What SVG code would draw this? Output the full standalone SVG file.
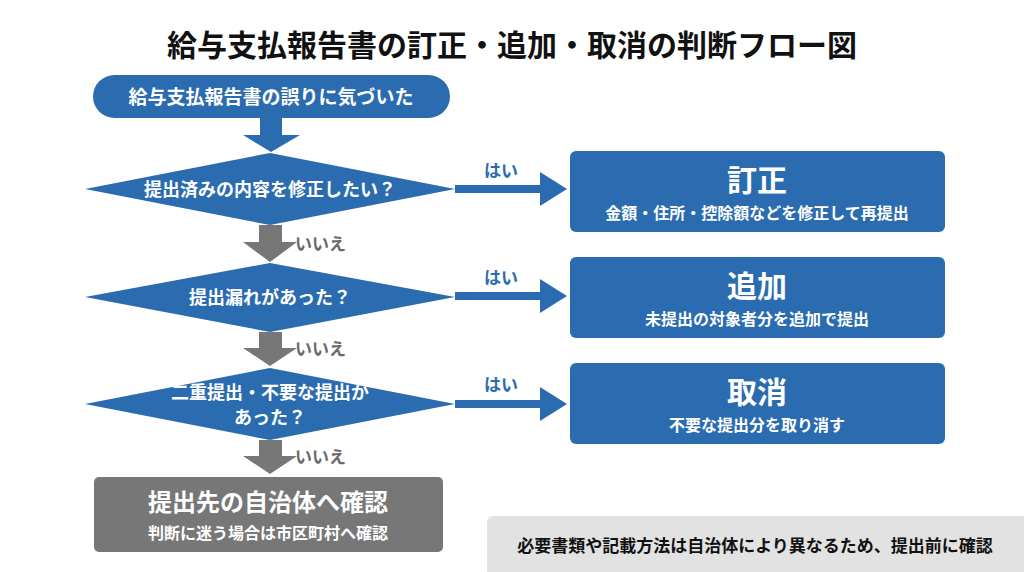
<svg xmlns="http://www.w3.org/2000/svg" width="1024" height="572" viewBox="0 0 1024 572">
<style>
text{font-family:"Noto Sans CJK JP","Noto Sans",sans-serif;font-weight:bold;text-anchor:middle}
.b{fill:#2b6cb0}.g{fill:#777}.w{fill:#fff}
.gl{fill:#6b6b6b;font-size:17px;text-anchor:start}
.bl{fill:#2b6cb0;font-size:17px;text-anchor:start}
</style>
<rect width="1024" height="572" fill="#fff"/>
<text x="512" y="56" font-size="30" fill="#111">給与支払報告書の訂正・追加・取消の判断フロー図</text>
<g id="connectors">
<polygon class="b" points="260,118 282,118 282,135 300,135 271,152 243,135 260,135"/>
<polygon class="g" points="259,225 282,225 282,242 297,242 270,262 243,242 259,242"/>
<polygon class="g" points="259,332 282,332 282,348 297,348 270,366 243,348 259,348"/>
<polygon class="g" points="259,440 282,440 282,456 297,456 270,474 243,456 259,456"/>
<text class="gl" x="295" y="250">いいえ</text>
<text class="gl" x="295" y="355">いいえ</text>
<text class="gl" x="295" y="463">いいえ</text>
<polygon class="b" points="455,185 540,185 540,172 567,189 540,206 540,193 455,193"/>
<polygon class="b" points="455,292 540,292 540,279 567,296 540,313 540,300 455,300"/>
<polygon class="b" points="455,400 540,400 540,387 567,404 540,421 540,408 455,408"/>
<text class="bl" x="484" y="177">はい</text>
<text class="bl" x="484" y="284">はい</text>
<text class="bl" x="484" y="391">はい</text>
</g>
<g id="start"><rect class="b" x="93" y="75" width="357" height="43" rx="21.5"/><text class="w" x="271" y="104" font-size="19">給与支払報告書の誤りに気づいた</text></g>
<g id="q1"><polygon class="b" points="85,189 270,153 455,189 270,225"/><text class="w" x="270" y="196" font-size="18">提出済みの内容を修正したい？</text></g>
<g id="q2"><polygon class="b" points="85,297 270,263 455,297 270,332"/><text class="w" x="270" y="304" font-size="18">提出漏れがあった？</text></g>
<g id="q3"><polygon class="b" points="85,404 270,368 455,404 270,440"/><text class="w" x="270" y="399" font-size="18">二重提出・不要な提出が</text><text class="w" x="270" y="424" font-size="18">あった？</text></g>
<g id="confirm"><rect class="g" x="94" y="477" width="349" height="75" rx="5"/><text class="w" x="268" y="511" font-size="24">提出先の自治体へ確認</text><text class="w" x="268" y="539" font-size="16">判断に迷う場合は市区町村へ確認</text></g>
<g id="teisei"><rect class="b" x="570" y="151" width="375" height="81" rx="6"/><text class="w" x="757" y="191" font-size="30">訂正</text><text class="w" x="757" y="219" font-size="16">金額・住所・控除額などを修正して再提出</text></g>
<g id="tsuika"><rect class="b" x="570" y="257" width="375" height="81" rx="6"/><text class="w" x="757" y="297" font-size="30">追加</text><text class="w" x="757" y="325" font-size="16">未提出の対象者分を追加で提出</text></g>
<g id="torikeshi"><rect class="b" x="570" y="363" width="375" height="81" rx="6"/><text class="w" x="757" y="403" font-size="30">取消</text><text class="w" x="757" y="431" font-size="16">不要な提出分を取り消す</text></g>
<g id="note"><rect x="487" y="516" width="545" height="62" rx="6" fill="#e2e2e2"/><text x="755" y="552" font-size="17" fill="#111">必要書類や記載方法は自治体により異なるため、提出前に確認</text></g>
</svg>
